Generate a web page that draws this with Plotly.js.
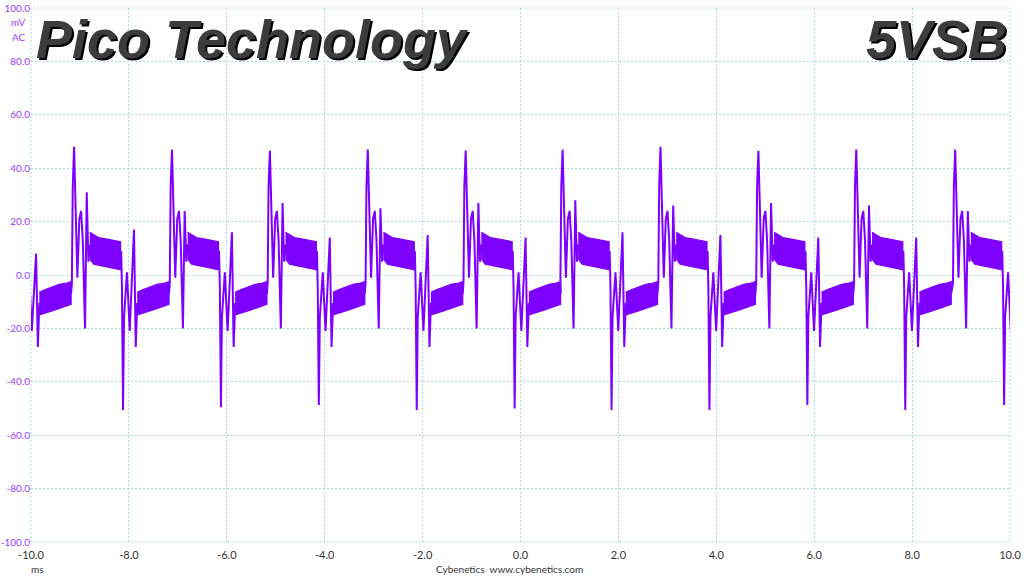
<!DOCTYPE html>
<html>
<head>
<meta charset="utf-8">
<script src="https://cdn.plot.ly/plotly-3.0.1.min.js"></script>
<style>
  html, body { margin: 0; padding: 0; background: #ffffff; }
  #chart { width: 1024px; height: 576px; }
</style>
</head>
<body>
<div id="chart"></div>
<script>
// ---- Data ----
// time (ms) of each positive spike (one per switching cycle); first cycle lies partly before -10 ms
const spikeTimes = [-11.12, -9.12, -7.12, -5.12, -3.12, -1.12, 0.86, 2.86, 4.86, 6.86, 8.88];
// positive spike peak (mV) for each cycle
const posPeaks = [47, 48, 47, 46.5, 47, 46.6, 47, 48, 46.5, 47, 47];
// negative spike peak (mV) that follows each positive spike by ~1 ms
const negPeaks = [-50, -50.6, -49.5, -48.7, -50.6, -50, -50.6, -50.6, -48.7, -50.6, -48.7];
// ringing peak after the positive spike (mV)
const ringPeaks = [29, 31, 24, 27, 25, 27, 28, 26, 27, 26, 24];
// ringing peak after the negative spike (mV)
const negRingPeaks = [8, 17, 16, 14, 15, 14, 16, 15, 14, 14, 12];

// shape of one cycle, times relative to the positive spike (ms), values in mV
const riseOffsets = [-0.045, -0.027, 0, 0.035, 0.067, 0.108, 0.143, 0.178, 0.224, 0.259, 0.292, 0.32];
const riseValues  = [-3, 33, 'P', 23, -1, 21, 24, 13, -20, 'R', 5, 11];
const fallOffsets = [0.95, 0.962, 0.978, 1.0, 1.02, 1.08, 1.137, 1.224, 1.26, 1.29];
const fallValues  = [7, 9, -5, 'N', -16, 1, -21, 'Q', -27, -10.75];

// noisy "high" band after the positive spike: envelope
const highBandOffsets = [0.32, 0.40, 0.50, 0.65, 0.80, 0.95];
const highBandTop     = [16, 15, 14, 13.5, 13, 12.5];
const highBandBottom  = [6, 4, 3.5, 3, 2.5, 2];
// noisy "low" band after the negative spike: envelope
const lowBandOffsets = [1.29, 1.40, 1.55, 1.70, 1.85, 1.94];
const lowBandTop     = [-6.5, -5.5, -4.5, -3.5, -3, -2.5];
const lowBandBottom  = [-15, -14.5, -13.5, -12.5, -11.5, -11];

// axis ticks
const xTickVals = [-10, -8, -6, -4, -2, 0, 2, 4, 6, 8, 10];
const xTickText = ['-10.0', '-8.0', '-6.0', '-4.0', '-2.0', '0.0', '2.0', '4.0', '6.0', '8.0', '10.0'];
const yTickVals = [100, 80, 60, 40, 20, 0, -20, -40, -60, -80, -100];
const yTickText = ['100.0', '80.0', '60.0', '40.0', '20.0', '0.0', '-20.0', '-40.0', '-60.0', '-80.0', '-100.0'];

// ---- Build traces ----
const PURPLE = '#7d00ff';
const lineX = [], lineY = [];
const bandX = [], bandY = [];
function mid(a, b) { return (a + b) / 2; }

spikeTimes.forEach((tp, c) => {
  const sub = v => v === 'P' ? posPeaks[c] : v === 'N' ? negPeaks[c] : v === 'R' ? ringPeaks[c] : v === 'Q' ? negRingPeaks[c] : v;
  riseOffsets.forEach((o, i) => { lineX.push(tp + o); lineY.push(sub(riseValues[i])); });
  const hN = highBandOffsets.length - 1;
  lineX.push(tp + highBandOffsets[hN]); lineY.push(mid(highBandTop[hN], highBandBottom[hN]));
  fallOffsets.forEach((o, i) => { lineX.push(tp + o); lineY.push(sub(fallValues[i])); });
  const lN = lowBandOffsets.length - 1;
  lineX.push(tp + lowBandOffsets[lN]); lineY.push(mid(lowBandTop[lN], lowBandBottom[lN]));

  // high band polygon
  highBandOffsets.forEach((o, i) => { bandX.push(tp + o); bandY.push(highBandTop[i]); });
  for (let i = hN; i >= 0; i--) { bandX.push(tp + highBandOffsets[i]); bandY.push(highBandBottom[i]); }
  bandX.push(null); bandY.push(null);
  // low band polygon
  lowBandOffsets.forEach((o, i) => { bandX.push(tp + o); bandY.push(lowBandTop[i]); });
  for (let i = lN; i >= 0; i--) { bandX.push(tp + lowBandOffsets[i]); bandY.push(lowBandBottom[i]); }
  bandX.push(null); bandY.push(null);
});

const traces = [
  {
    x: bandX, y: bandY, type: 'scatter', mode: 'lines',
    fill: 'toself', fillcolor: PURPLE,
    line: { color: PURPLE, width: 1.2 }, hoverinfo: 'skip', showlegend: false
  },
  {
    x: lineX, y: lineY, type: 'scatter', mode: 'lines',
    line: { color: PURPLE, width: 2 }, hoverinfo: 'skip', showlegend: false
  }
];

const GRID = '#a8d9e6';
const SMALL = 'Lato, Noto Sans, sans-serif';
const layout = {
  width: 1024, height: 576,
  margin: { l: 31, r: 14, t: 8, b: 34, pad: 0 },
  paper_bgcolor: '#ffffff', plot_bgcolor: '#ffffff',
  showlegend: false,
  font: { family: SMALL, size: 11, color: '#333333' },
  xaxis: {
    range: [-10, 10], tickmode: 'array', tickvals: xTickVals, ticktext: xTickText,
    showgrid: true, gridcolor: GRID, griddash: '2px,2px', gridwidth: 1,
    zeroline: false, showline: false, ticks: '', ticklabelstandoff: 5,
    tickfont: { family: SMALL, size: 11, color: '#333333' }, fixedrange: true
  },
  yaxis: {
    range: [-100, 100], tickmode: 'array', tickvals: yTickVals, ticktext: yTickText,
    showgrid: true, gridcolor: GRID, griddash: '2px,2px', gridwidth: 1,
    zeroline: false, showline: false, ticks: '',
    tickfont: { family: SMALL, size: 10, color: '#9a3cff' }, fixedrange: true
  },
  shapes: [
    { type: 'rect', xref: 'paper', yref: 'paper', x0: 0, x1: 1, y0: 0, y1: 1,
      line: { color: GRID, width: 1, dash: '2px,2px' }, layer: 'below' }
  ],
  annotations: [
    // title shadow + text
    { text: '<b><i>Pico Technology</i></b>', xref: 'paper', yref: 'paper', x: 0.003, y: 1, xanchor: 'left', yanchor: 'top',
      xshift: 2, yshift: -1, showarrow: false, font: { family: 'Liberation Sans, Arial, sans-serif', size: 54, color: '#000000' } },
    { text: '<b><i>Pico Technology</i></b>', xref: 'paper', yref: 'paper', x: 0.003, y: 1, xanchor: 'left', yanchor: 'top',
      xshift: 0, yshift: 1, showarrow: false, font: { family: 'Liberation Sans, Arial, sans-serif', size: 54, color: '#3c3c3c' } },
    { text: '<b><i>5VSB</i></b>', xref: 'paper', yref: 'paper', x: 0.9985, y: 1, xanchor: 'right', yanchor: 'top',
      xshift: 2, yshift: -1, showarrow: false, font: { family: 'Liberation Sans, Arial, sans-serif', size: 54, color: '#000000' } },
    { text: '<b><i>5VSB</i></b>', xref: 'paper', yref: 'paper', x: 0.9985, y: 1, xanchor: 'right', yanchor: 'top',
      xshift: 0, yshift: 1, showarrow: false, font: { family: 'Liberation Sans, Arial, sans-serif', size: 54, color: '#3c3c3c' } },
    // unit labels
    { text: 'mV', xref: 'paper', yref: 'paper', x: -0.0123, y: 1, yshift: -14, xanchor: 'center', yanchor: 'middle',
      showarrow: false, font: { family: SMALL, size: 10, color: '#9a3cff' } },
    { text: 'AC', xref: 'paper', yref: 'paper', x: -0.0123, y: 1, yshift: -29, xanchor: 'center', yanchor: 'middle',
      showarrow: false, font: { family: SMALL, size: 10, color: '#9a3cff' } },
    { text: 'ms', xref: 'paper', yref: 'paper', x: 0.007, y: 0, yshift: -27, xanchor: 'center', yanchor: 'middle',
      showarrow: false, font: { family: SMALL, size: 10, color: '#333333' } },
    { text: 'Cybenetics&nbsp;&nbsp;www.cybenetics.com', xref: 'paper', yref: 'paper', x: 0.489, y: 0, yshift: -27,
      xanchor: 'center', yanchor: 'middle', showarrow: false, font: { family: SMALL, size: 10, color: '#333333' } }
  ]
};

Plotly.newPlot('chart', traces, layout, { displayModeBar: false, staticPlot: true });
</script>
</body>
</html>
